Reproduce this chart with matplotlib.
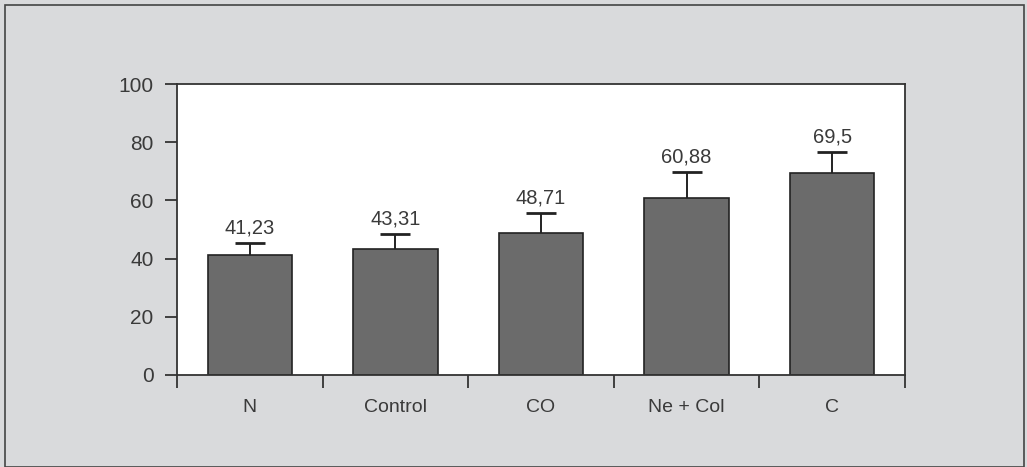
import matplotlib.pyplot as plt
from matplotlib.patches import Rectangle
import numpy as np

# data
categories = ["N", "Control", "CO", "Ne + Col", "C"]
values = [41.23, 43.31, 48.71, 60.88, 69.5]
errors = [4.0, 5.0, 7.0, 9.0, 7.0]
labels = ["41,23", "43,31", "48,71", "60,88", "69,5"]

bg = "#d9dadc"
bar_color = "#6b6b6b"
text_color = "#3a3a3a"

plt.rcParams['font.family'] = ['Liberation Sans', 'DejaVu Sans']

fig = plt.figure(figsize=(10.27, 4.67), dpi=100)
fig.patch.set_facecolor(bg)

# outer frame
fig.patches.append(Rectangle((5 / 1027, 0), 1019 / 1027, 462 / 467,
                             transform=fig.transFigure, fill=False,
                             edgecolor="#444444", linewidth=1.2))

ax = fig.add_axes([177 / 1027, 92 / 467, 728 / 1027, 291 / 467])
ax.set_facecolor("white")

x = np.arange(len(categories))
lower = [0] * len(values)
ax.bar(x, values, width=0.58, color=bar_color, edgecolor="#222222", linewidth=1.2,
       zorder=2)
eb = ax.errorbar(x, values, yerr=[lower, errors], fmt="none", ecolor="#222222",
                 elinewidth=1.4, capsize=11, capthick=2, zorder=3)
# only the upper cap is shown
eb[1][0].set_visible(False)

for xi, v, e, lab in zip(x, values, errors, labels):
    ax.annotate(lab, (xi, v + e), xytext=(0, 4), textcoords="offset points",
                ha="center", va="bottom", fontsize=14.5, color=text_color)

ax.set_xlim(-0.5, len(categories) - 0.5)
ax.set_ylim(0, 100)
ax.set_yticks([0, 20, 40, 60, 80, 100])

# x ticks sit between categories, labels centered under the bars
ax.set_xticks(np.arange(-0.5, len(categories)), minor=False)
ax.set_xticklabels([""] * (len(categories) + 1))
ax.set_xticks(x, minor=True)
ax.set_xticklabels(categories, minor=True)
ax.tick_params(axis="x", which="minor", length=0, pad=17, labelsize=14,
               labelcolor=text_color)
ax.tick_params(axis="x", which="major", length=9, width=1.3, color="#333333",
               direction="out")
ax.tick_params(axis="y", length=9, width=1.3, color="#333333", labelsize=15,
               labelcolor=text_color, pad=8)

for s in ax.spines.values():
    s.set_color("#333333")
    s.set_linewidth(1.3)

fig.savefig("out.png", dpi=100, facecolor=bg)
